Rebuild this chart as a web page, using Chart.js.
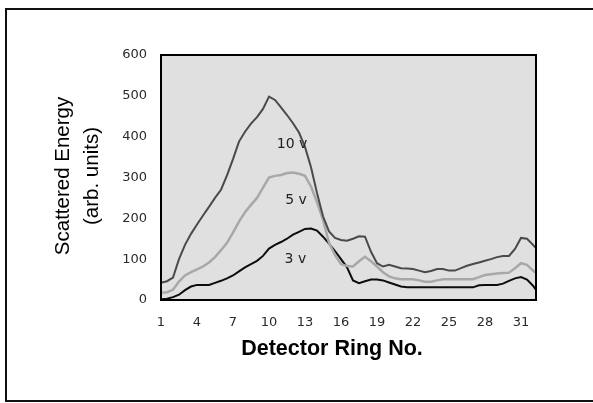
<!DOCTYPE html>
<html>
<head>
<meta charset="utf-8">
<script src="https://cdn.jsdelivr.net/npm/chart.js@4.4.1/dist/chart.umd.min.js"></script>
<style>
  html, body { margin: 0; padding: 0; background: #fff; }
  #wrap { width: 593px; height: 403px; position: relative; }
</style>
</head>
<body>
<div id="wrap"><canvas id="energyChart" width="593" height="403"></canvas></div>
<script>
// ===================================
// DATA
// ===================================
// detector ring positions, half-ring steps
const rings = [
  1, 1.5, 2, 2.5, 3, 3.5, 4, 4.5, 5, 5.5, 6, 6.5, 7, 7.5, 8, 8.5,
  9, 9.5, 10, 10.5, 11, 11.5, 12, 12.5, 13, 13.5, 14, 14.5, 15, 15.5, 16, 16.5,
  17, 17.5, 18, 18.5, 19, 19.5, 20, 20.5, 21, 21.5, 22, 22.5, 23, 23.5, 24, 24.5,
  25, 25.5, 26, 26.5, 27, 27.5, 28, 28.5, 29, 29.5, 30, 30.5, 31, 31.5, 32, 32.25
];

const energy10v = [
  42, 46, 55, 100, 135, 162, 185, 207, 228, 250, 270, 305, 345, 388, 412, 432,
  448, 468, 498, 490, 472, 453, 433, 410, 375, 325, 262, 205, 168, 152, 147, 145,
  150, 156, 155, 118, 90, 82, 86, 82, 78, 77, 76, 72, 68, 71, 76, 76,
  72, 72, 78, 84, 88, 92, 96, 100, 105, 108, 108, 125, 152, 150, 135, 127
];

const energy5v = [
  18, 19, 25, 45, 60, 68, 75, 82, 92, 105, 122, 140, 165, 192, 215, 233,
  250, 275, 300, 304, 306, 311, 312, 309, 304, 278, 240, 196, 140, 110, 88, 83,
  82, 95, 106, 95, 82, 68, 58, 53, 51, 51, 51, 48, 45, 45, 48, 51,
  51, 51, 51, 51, 51, 56, 61, 63, 65, 66, 67, 78, 90, 86, 72, 67
];

const energy3v = [
  2, 3, 7, 13, 24, 33, 37, 37, 37, 42, 47, 53, 60, 70, 80, 88,
  96, 108, 126, 135, 142, 150, 160, 167, 174, 175, 170, 155, 138, 120, 100, 80,
  48, 41, 46, 50, 50, 48, 43, 38, 33, 31, 31, 31, 31, 31, 31, 31,
  31, 31, 31, 31, 31, 36, 37, 37, 37, 40, 47, 53, 56, 50, 35, 25
];

const xTickLabels = [1, 4, 7, 10, 13, 16, 19, 22, 25, 28, 31];
const yTickLabels = [0, 100, 200, 300, 400, 500, 600];

const seriesNames = ['10 v', '5 v', '3 v'];

function toPoints(ys) {
  return rings.map((r, i) => ({ x: r, y: ys[i] }));
}

const tickFont = { family: '"DejaVu Sans", Verdana, sans-serif', size: 13 };

// ===================================
// DECORATION PLUGIN
// ===================================
// plot background, frames, axis titles and in-plot series labels
const decorPlugin = {
  id: 'decor',
  beforeDraw(chart) {
    const { ctx, chartArea: a } = chart;
    ctx.save();
    ctx.fillStyle = '#e0e0e0';
    ctx.fillRect(a.left, a.top, a.right - a.left, a.bottom - a.top);
    ctx.restore();
  },
  afterDraw(chart) {
    const { ctx, chartArea: a } = chart;
    const xs = chart.scales.x, ys = chart.scales.y;
    ctx.save();
    // plot frame
    ctx.strokeStyle = '#000';
    ctx.lineWidth = 2;
    ctx.strokeRect(a.left, a.top, a.right - a.left, a.bottom - a.top);
    // outer frame (right side runs off the picture)
    ctx.strokeStyle = '#111';
    ctx.strokeRect(6, 9, 600, 392);

    // x axis title
    ctx.fillStyle = '#000';
    ctx.font = 'bold 21.5px "Liberation Sans", Arial, sans-serif';
    ctx.textAlign = 'center';
    ctx.textBaseline = 'middle';
    ctx.fillText('Detector Ring No.', 332, 349);

    // y axis title, two lines
    ctx.font = '20.5px "Liberation Sans", Arial, sans-serif';
    ctx.save();
    ctx.translate(63, 176);
    ctx.rotate(-Math.PI / 2);
    ctx.fillText('Scattered Energy', 0, 0);
    ctx.restore();
    ctx.save();
    ctx.translate(92, 176);
    ctx.rotate(-Math.PI / 2);
    ctx.fillText('(arb. units)', 0, 0);
    ctx.restore();

    // series labels inside the plot
    ctx.font = '14px "DejaVu Sans", Verdana, sans-serif';
    ctx.fillStyle = '#222';
    const spots = [[11.92, 380], [12.25, 245], [12.2, 100]];
    seriesNames.forEach((name, i) => {
      ctx.fillText(name, xs.getPixelForValue(spots[i][0]), ys.getPixelForValue(spots[i][1]));
    });
    ctx.restore();
  }
};

// ===================================
// CHART CONFIG
// ===================================
const energyConfig = {
  type: 'line',
  data: {
    datasets: [
      {
        label: seriesNames[0],
        data: toPoints(energy10v),
        borderColor: '#4a4a4a',
        borderWidth: 2,
        pointRadius: 0,
        tension: 0
      },
      {
        label: seriesNames[1],
        data: toPoints(energy5v),
        borderColor: '#a8a8a8',
        borderWidth: 2.5,
        pointRadius: 0,
        tension: 0
      },
      {
        label: seriesNames[2],
        data: toPoints(energy3v),
        borderColor: '#0d0d0d',
        borderWidth: 2,
        pointRadius: 0,
        tension: 0
      }
    ]
  },
  options: {
    responsive: false,
    animation: false,
    layout: { padding: { left: 0, right: 57, top: 55, bottom: 0 } },
    plugins: {
      legend: { display: false },
      tooltip: { enabled: false }
    },
    scales: {
      x: {
        type: 'linear',
        min: 1,
        max: 32.25,
        grid: { display: false, drawTicks: false },
        border: { display: false },
        afterBuildTicks: (scale) => {
          scale.ticks = xTickLabels.map(v => ({ value: v }));
        },
        afterFit: (scale) => { scale.height = 103; },
        ticks: {
          padding: 15,
          color: '#2a2a2a',
          font: tickFont,
          maxRotation: 0,
          autoSkip: false
        }
      },
      y: {
        min: 0,
        max: 600,
        grid: { display: false, drawTicks: false },
        border: { display: false },
        afterBuildTicks: (scale) => {
          scale.ticks = yTickLabels.map(v => ({ value: v }));
        },
        afterFit: (scale) => { scale.width = 161; },
        ticks: {
          padding: 14,
          color: '#2a2a2a',
          font: tickFont
        }
      }
    }
  },
  plugins: [decorPlugin]
};

// --- Render Chart ---
const ctxEnergy = document.getElementById('energyChart').getContext('2d');
new Chart(ctxEnergy, energyConfig);
</script>
</body>
</html>
